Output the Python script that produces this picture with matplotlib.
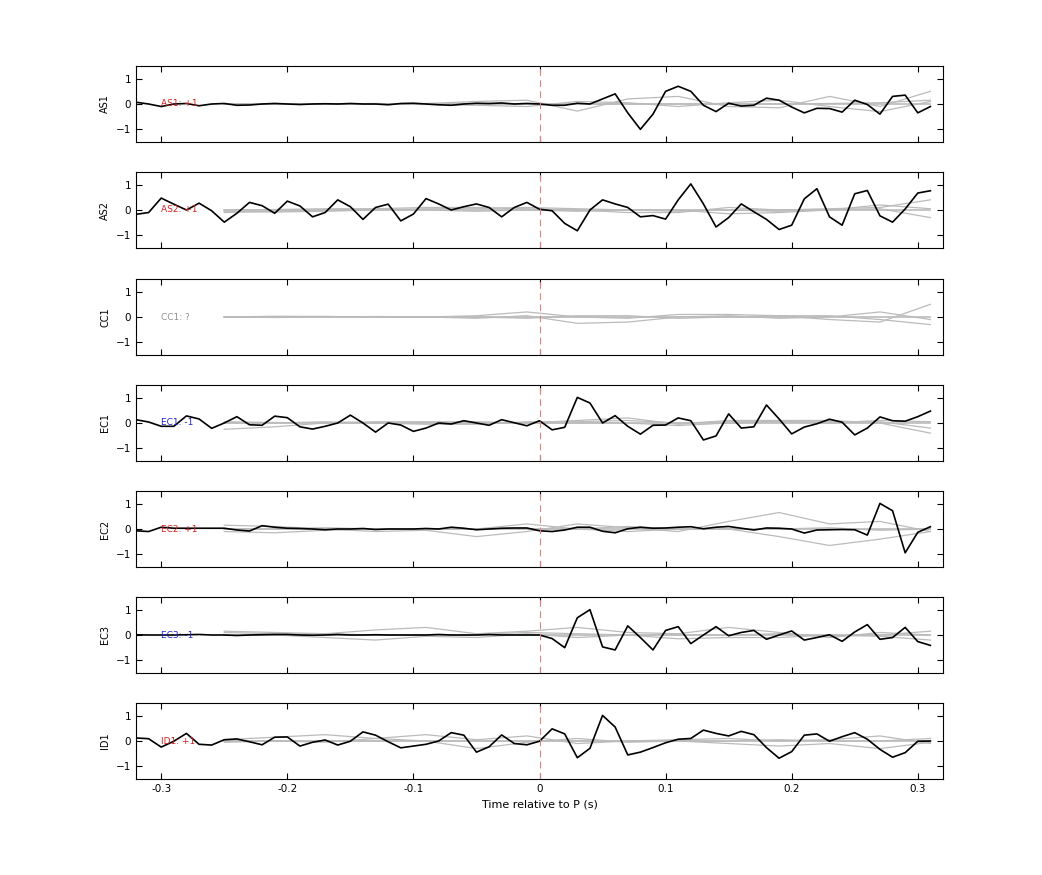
import numpy as np
import matplotlib
matplotlib.use("Agg")
import matplotlib.pyplot as plt

t = np.round(np.arange(-0.32, 0.315, 0.01), 2)
tg = np.round(np.arange(-0.25, 0.315, 0.04), 2)

stations = ["AS1", "AS2", "CC1", "EC1", "EC2", "EC3", "ID1"]
labels = ["AS1: +1", "AS2: +1", "CC1: ?", "EC1: -1", "EC2: +1", "EC3: -1", "ID1: +1"]
label_colors = ["#d62020", "#d62020", "#909090", "#2020d0", "#d62020", "#2020d0", "#d62020"]

as1 = [0.07, 0.0, -0.1, 0.0, 0.02, -0.07, 0.0, 0.02, -0.05, -0.04, 0.0, 0.02, 0.0, -0.02, 0.0, 0.01,
       0.0, 0.02, 0.0, 0.0, -0.03, 0.02, 0.03, 0.0, -0.03, -0.05, 0.0, 0.03, 0.02, 0.04, 0.0, 0.02,
       0.0, -0.05, -0.05, 0.03, 0.0, 0.2, 0.4, -0.35, -1.0, -0.4, 0.5, 0.7, 0.5, -0.05, -0.3, 0.03,
       -0.08, -0.05, 0.23, 0.15, -0.12, -0.35, -0.17, -0.18, -0.32, 0.15, -0.02, -0.4, 0.3, 0.35, -0.35, -0.1]
as2 = [-0.17, -0.1, 0.47, 0.23, 0.0, 0.27, -0.03, -0.48, -0.13, 0.3, 0.17, -0.13, 0.35, 0.16, -0.27, -0.1,
       0.4, 0.13, -0.37, 0.1, 0.23, -0.43, -0.16, 0.45, 0.24, 0.0, 0.13, 0.24, 0.1, -0.27, 0.1, 0.3,
       0.03, -0.03, -0.53, -0.82, 0.0, 0.4, 0.24, 0.1, -0.27, -0.22, -0.36, 0.4, 1.03, 0.24, -0.67, -0.3,
       0.24, -0.07, -0.37, -0.77, -0.6, 0.44, 0.84, -0.27, -0.6, 0.64, 0.77, -0.23, -0.48, 0.04, 0.67, 0.76]
cc1 = None
ec1 = [0.13, 0.04, -0.13, -0.13, 0.28, 0.16, -0.21, 0.0, 0.25, -0.07, -0.09, 0.27, 0.21, -0.15, -0.24, -0.13,
       0.0, 0.31, 0.0, -0.36, 0.0, -0.08, -0.33, -0.2, 0.0, -0.04, 0.09, 0.0, -0.09, 0.13, 0.01, -0.11,
       0.09, -0.27, -0.17, 1.01, 0.79, 0.0, 0.29, -0.13, -0.44, -0.09, -0.08, 0.2, 0.09, -0.67, -0.51, 0.36,
       -0.2, -0.15, 0.71, 0.16, -0.43, -0.16, -0.03, 0.15, 0.03, -0.47, -0.2, 0.24, 0.09, 0.07, 0.25, 0.47]
ec2 = [-0.07, -0.1, 0.07, 0.03, 0.03, 0.03, 0.03, 0.03, -0.04, -0.08, 0.13, 0.07, 0.03, 0.02, 0.0, -0.03,
       0.0, 0.0, 0.02, -0.02, 0.0, 0.0, 0.0, 0.02, 0.0, 0.07, 0.03, -0.03, 0.0, 0.03, 0.04, 0.04,
       -0.07, -0.1, -0.04, 0.07, 0.07, -0.09, -0.15, 0.01, 0.07, 0.03, 0.04, 0.07, 0.09, 0.01, 0.07, 0.1,
       0.03, -0.04, 0.04, 0.03, 0.0, -0.16, -0.04, -0.03, -0.02, -0.03, -0.24, 1.01, 0.72, -0.94, -0.13, 0.09]
ec3 = [0.01, 0.0, 0.0, 0.0, 0.01, 0.02, 0.0, 0.0, -0.02, 0.0, 0.01, 0.02, 0.02, 0.0, -0.01, 0.0,
       0.02, 0.0, 0.0, 0.01, 0.0, 0.0, 0.0, 0.0, 0.02, 0.0, 0.0, 0.0, 0.02, 0.0, 0.0, 0.0,
       0.0, -0.14, -0.5, 0.68, 1.0, -0.47, -0.59, 0.36, -0.1, -0.59, 0.18, 0.33, -0.34, 0.0, 0.33, -0.03,
       0.1, 0.18, -0.17, 0.0, 0.16, -0.2, -0.1, 0.01, -0.25, 0.12, 0.41, -0.17, -0.1, 0.3, -0.26, -0.41]
id1 = [0.12, 0.09, -0.24, -0.01, 0.3, -0.13, -0.16, 0.05, 0.08, -0.03, -0.15, 0.15, 0.16, -0.2, -0.05, 0.04,
       -0.16, -0.01, 0.36, 0.23, -0.03, -0.27, -0.2, -0.13, 0.0, 0.33, 0.23, -0.44, -0.23, 0.24, -0.1, -0.15,
       -0.01, 0.48, 0.28, -0.66, -0.29, 1.01, 0.55, -0.55, -0.44, -0.26, -0.07, 0.07, 0.1, 0.43, 0.3, 0.2,
       0.38, 0.25, -0.26, -0.68, -0.42, 0.23, 0.28, -0.01, 0.17, 0.33, 0.07, -0.33, -0.64, -0.46, -0.01, 0.0]
traces = [as1, as2, cc1, ec1, ec2, ec3, id1]

# grey comparison traces, sampled every 0.04 s from -0.25 s
grey = [
    [[0, 0, 0, 0, 0.02, 0.1, 0.15, -0.28, 0.2, 0.3, -0.1, -0.15, 0.3, -0.1, 0.5],
     [0, 0, 0, 0, -0.02, -0.05, -0.1, 0.1, 0.05, -0.1, 0.05, 0.15, -0.1, -0.3, 0.1],
     [0, 0.02, 0, 0.02, 0, 0, 0.02, 0, 0, 0, 0, 0, 0.02, 0.05, 0.15]],
    [[0, 0.02, 0.05, 0.05, 0.1, 0.1, 0.05, 0.0, -0.1, -0.1, 0.1, 0.0, 0.05, 0.1, 0.4],
     [-0.05, -0.08, -0.05, 0, 0.05, 0.05, 0.1, 0.05, 0, -0.05, 0, -0.05, 0, 0.05, -0.3],
     [-0.1, -0.05, 0, 0, 0, -0.05, 0, -0.05, 0, 0, -0.15, -0.1, 0.0, 0.2, 0.05]],
    [[0, 0.03, 0.02, 0.0, 0.0, 0.05, 0.2, 0.0, -0.05, 0.1, 0.1, 0.05, -0.1, -0.2, 0.5],
     [0, -0.02, 0.0, 0.02, 0.0, -0.05, 0.05, -0.25, -0.2, 0.0, 0.05, -0.05, 0.0, 0.2, -0.1],
     [0, 0, 0.02, 0, 0, 0, -0.05, 0.05, 0.05, -0.05, 0, 0.05, 0.05, -0.1, -0.3]],
    [[-0.25, -0.15, 0.0, 0.05, 0.05, 0.05, 0.0, 0.1, 0.2, -0.05, 0.1, 0.1, 0.1, 0.0, -0.4],
     [0.05, 0.02, 0.0, 0.0, -0.05, -0.05, 0.05, 0.05, 0.1, 0.0, 0.05, 0.05, 0.05, 0.05, -0.2],
     [0, 0, 0.05, 0, 0, 0, 0, 0, 0, -0.1, 0, 0.05, 0, 0.1, 0.05]],
    [[0.15, 0.1, 0.0, -0.1, -0.05, -0.3, -0.1, 0.2, 0.05, -0.1, 0.3, 0.65, 0.2, 0.3, -0.1],
     [-0.1, -0.15, -0.05, 0.0, 0.0, 0.0, 0.2, 0.0, 0.1, 0.0, 0.0, -0.3, -0.65, -0.4, -0.1],
     [0, 0, 0.05, 0, 0, 0, 0, 0, -0.1, 0, 0, 0, 0.05, -0.05, 0.0]],
    [[0.15, 0.1, 0.05, 0.2, 0.3, 0.05, 0.15, 0.3, 0.1, 0.05, 0.3, 0.1, -0.1, 0.1, 0.0],
     [0.0, 0.0, -0.1, -0.2, -0.05, -0.1, 0.05, -0.1, 0.0, -0.15, -0.1, -0.1, 0.0, -0.05, -0.2],
     [0.1, 0.05, 0.05, 0, 0, 0.02, 0.1, 0.05, 0, 0, 0, 0.05, -0.05, 0.0, 0.15]],
    [[0.05, 0.15, 0.25, 0.1, 0.25, 0.05, 0.2, -0.1, 0.0, 0.05, 0.1, 0.0, 0.05, 0.2, -0.1],
     [-0.05, 0.0, -0.05, 0.1, 0.0, -0.3, -0.05, 0.1, -0.05, 0.0, -0.1, -0.2, -0.1, -0.3, -0.05],
     [0, 0, 0, 0, 0, 0, 0, 0, 0, 0, 0, 0.05, 0, 0, 0.1]],
]

fig = plt.figure(figsize=(10.42, 8.75), dpi=100)
left, width, height = 136 / 1042, 807 / 1042, 76 / 875
tops = [66, 172, 279, 385, 491, 597, 703]

for i, st in enumerate(stations):
    ax = fig.add_axes([left, 1 - (tops[i] + 76) / 875, width, height])
    for g in grey[i]:
        ax.plot(tg, g, color="#bbbbbb", lw=0.9)
    ax.plot(tg, np.zeros(len(tg)), color="#bbbbbb", lw=1.2)
    if traces[i] is not None:
        ax.plot(t, traces[i], color="black", lw=1.2)
    ax.axvline(0, color="#e08080", lw=0.8, dashes=(6, 4))
    ax.text(-0.3, 0, labels[i], color=label_colors[i], fontsize=6.5, va="center")
    ax.set_xlim(-0.32, 0.32)
    ax.set_ylim(-1.5, 1.5)
    ax.set_yticks([-1, 0, 1])
    ax.set_xticks([-0.3, -0.2, -0.1, 0, 0.1, 0.2, 0.3])
    ax.tick_params(direction="in", top=True, right=True, labelsize=7.5, length=4)
    ax.set_ylabel(st, fontsize=7)
    if i < len(stations) - 1:
        ax.set_xticklabels([])
    else:
        ax.set_xticklabels(["-0.3", "-0.2", "-0.1", "0", "0.1", "0.2", "0.3"])
        ax.set_xlabel("Time relative to P (s)", fontsize=8)

fig.savefig("out.png", dpi=100)
